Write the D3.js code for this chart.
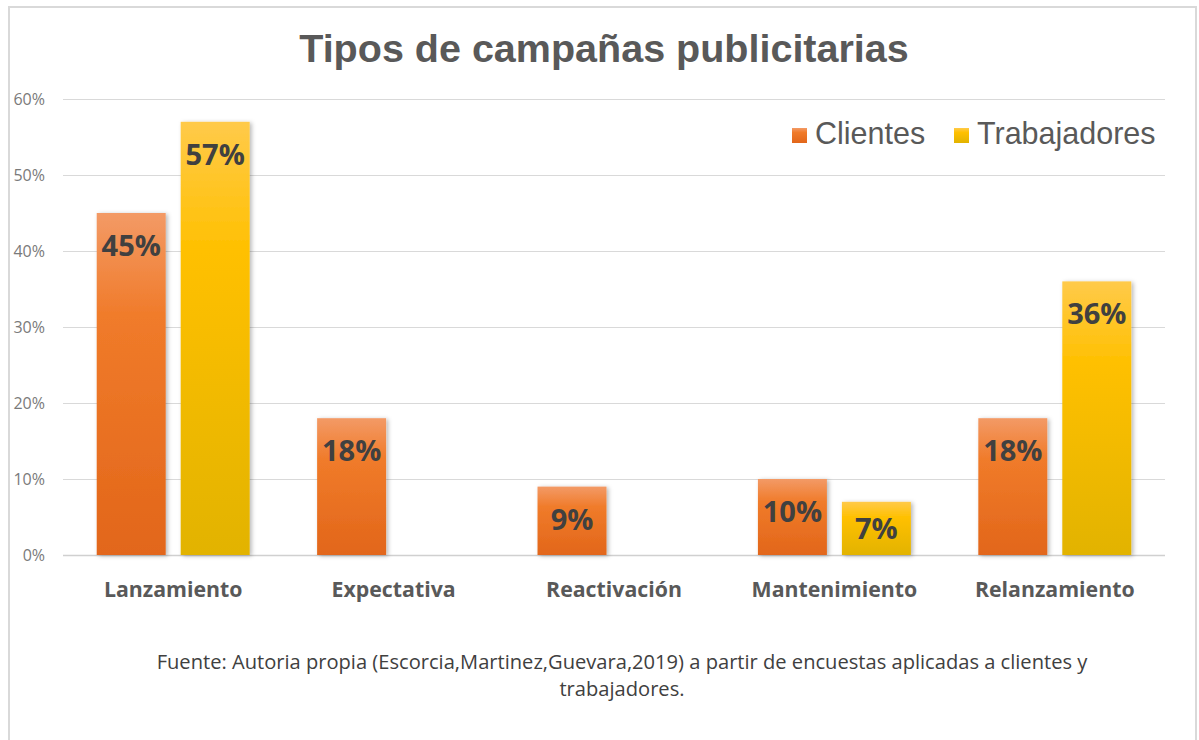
<!DOCTYPE html>
<html>
<head>
<meta charset="utf-8">
<script src="https://cdn.jsdelivr.net/npm/d3@7"></script>
<style>
  html, body { margin: 0; padding: 0; background: #fff; }
  svg { display: block; }
</style>
</head>
<body>
<svg id="chart" width="1199" height="740"></svg>
<script>
const categories = ["Lanzamiento", "Expectativa", "Reactivación", "Mantenimiento", "Relanzamiento"];
const seriesNames = ["Clientes", "Trabajadores"];
const clientes = [0.45, 0.18, 0.09, 0.10, 0.18];
const trabajadores = [0.57, null, null, 0.07, 0.36];
const yTicks = [0, 0.1, 0.2, 0.3, 0.4, 0.5, 0.6];
const titleText = "Tipos de campañas publicitarias";
const footLines = ["Fuente: Autoria propia (Escorcia,Martinez,Guevara,2019) a partir de encuestas aplicadas a clientes y", "trabajadores."];

const svg = d3.select("#chart");
const defs = svg.append("defs");

const palettes = {
  Clientes: ["#f39a66", "#f07b2a", "#e2661a"],
  Trabajadores: ["#ffca4a", "#ffc000", "#e2b300"]
};
Object.entries(palettes).forEach(([k, c]) => {
  const g = defs.append("linearGradient").attr("id", "grad-" + k)
    .attr("x1", 0).attr("y1", 0).attr("x2", 0).attr("y2", 1);
  g.append("stop").attr("offset", "0%").attr("stop-color", c[0]);
  g.append("stop").attr("offset", "30%").attr("stop-color", c[1]);
  g.append("stop").attr("offset", "100%").attr("stop-color", c[2]);
});
const f = defs.append("filter").attr("id", "shadow").attr("x", "-20%").attr("y", "-20%").attr("width", "150%").attr("height", "150%");
f.append("feDropShadow").attr("dx", 2).attr("dy", 1).attr("stdDeviation", 2).attr("flood-color", "#000").attr("flood-opacity", 0.28);

// Frame
svg.append("rect").attr("x", 9).attr("y", 7).attr("width", 1187).attr("height", 760)
  .attr("fill", "#fff").attr("stroke", "#d9d9d9").attr("stroke-width", 2);

const plot = { left: 63, right: 1165, top: 99, bottom: 555 };

const x0 = d3.scaleBand().domain(categories).range([plot.left, plot.right]).padding(0);
const bw = x0.bandwidth();
const groupPad = bw * 0.153;
const x1 = d3.scaleBand().domain(seriesNames).range([groupPad, bw - groupPad]).paddingInner(0.1786).paddingOuter(0);
const y = d3.scaleLinear().domain([0, 0.6]).range([plot.bottom, plot.top]);

// Gridlines
const yAxis = d3.axisLeft(y).tickValues(yTicks).tickSize(-(plot.right - plot.left)).tickFormat(d3.format(".0%"));
const ga = svg.append("g").attr("transform", `translate(${plot.left},0)`).call(yAxis);
ga.select(".domain").remove();
ga.selectAll(".tick line").attr("stroke", "#d9d9d9").attr("stroke-width", 1);
ga.selectAll(".tick").filter(d => d === 0).select("line").attr("stroke", "#d0d0d0").attr("stroke-width", 1.5);
ga.selectAll(".tick text")
  .attr("x", -18).attr("dy", "0.36em")
  .attr("font-family", "'Open Sans', sans-serif").attr("font-size", 16)
  .attr("fill", "#7a7a7a");

// Bars
const rows = categories.map((c, i) => ({ cat: c, values: [
  { s: "Clientes", v: clientes[i] },
  { s: "Trabajadores", v: trabajadores[i] }
].filter(d => d.v != null) }));

const groups = svg.append("g").selectAll("g").data(rows).join("g")
  .attr("transform", d => `translate(${x0(d.cat)},0)`);

groups.selectAll("rect").data(d => d.values).join("rect")
  .attr("x", d => x1(d.s))
  .attr("width", x1.bandwidth())
  .attr("y", d => y(d.v))
  .attr("height", d => y(0) - y(d.v))
  .attr("fill", d => `url(#grad-${d.s})`)
  .attr("filter", "url(#shadow)");

groups.selectAll("text.lbl").data(d => d.values).join("text")
  .attr("class", "lbl")
  .attr("x", d => x1(d.s) + x1.bandwidth() / 2)
  .attr("y", d => Math.min(y(d.v) + 43, (y(d.v) + y(0)) / 2 + 11))
  .attr("text-anchor", "middle")
  .attr("font-family", "'Open Sans', sans-serif").attr("font-weight", 700)
  .attr("font-size", 29).attr("fill", "#404040")
  .text(d => d3.format(".0%")(d.v));

// Category labels
svg.append("g").selectAll("text").data(categories).join("text")
  .attr("x", d => x0(d) + bw / 2)
  .attr("y", 597)
  .attr("text-anchor", "middle")
  .attr("font-family", "'Open Sans', sans-serif").attr("font-weight", 700)
  .attr("font-size", 21.3).attr("fill", "#595959")
  .text(d => d);

// Title
svg.append("text").attr("x", 604).attr("y", 62).attr("text-anchor", "middle")
  .attr("font-family", "'Liberation Sans', Arial, sans-serif").attr("font-weight", 700)
  .attr("font-size", 39.5).attr("fill", "#595959").text(titleText);

// Legend
const legendPos = [{ s: "Clientes", x: 792, tx: 815 }, { s: "Trabajadores", x: 954, tx: 977 }];
const lg = svg.append("g").selectAll("g").data(legendPos).join("g");
lg.append("rect").attr("x", d => d.x).attr("y", 128).attr("width", 15).attr("height", 15)
  .attr("fill", d => `url(#grad-${d.s})`);
lg.append("text").attr("x", d => d.tx).attr("y", 144)
  .attr("font-family", "'Liberation Sans', Arial, sans-serif")
  .attr("font-size", 30.5).attr("fill", "#595959").text(d => d.s);

// Footnote
const foot = svg.append("g").selectAll("text").data(footLines).join("text")
  .attr("x", 622).attr("y", (d, i) => 669 + i * 27)
  .attr("text-anchor", "middle")
  .attr("font-family", "'Open Sans', sans-serif")
  .attr("font-size", 16.5).attr("fill", "#404040")
  .text(d => d);
// fit first line to reference width
const w0 = foot.node().getComputedTextLength();
const fs = 16.5 * 931 / w0;
foot.attr("font-size", fs);
</script>
</body>
</html>
